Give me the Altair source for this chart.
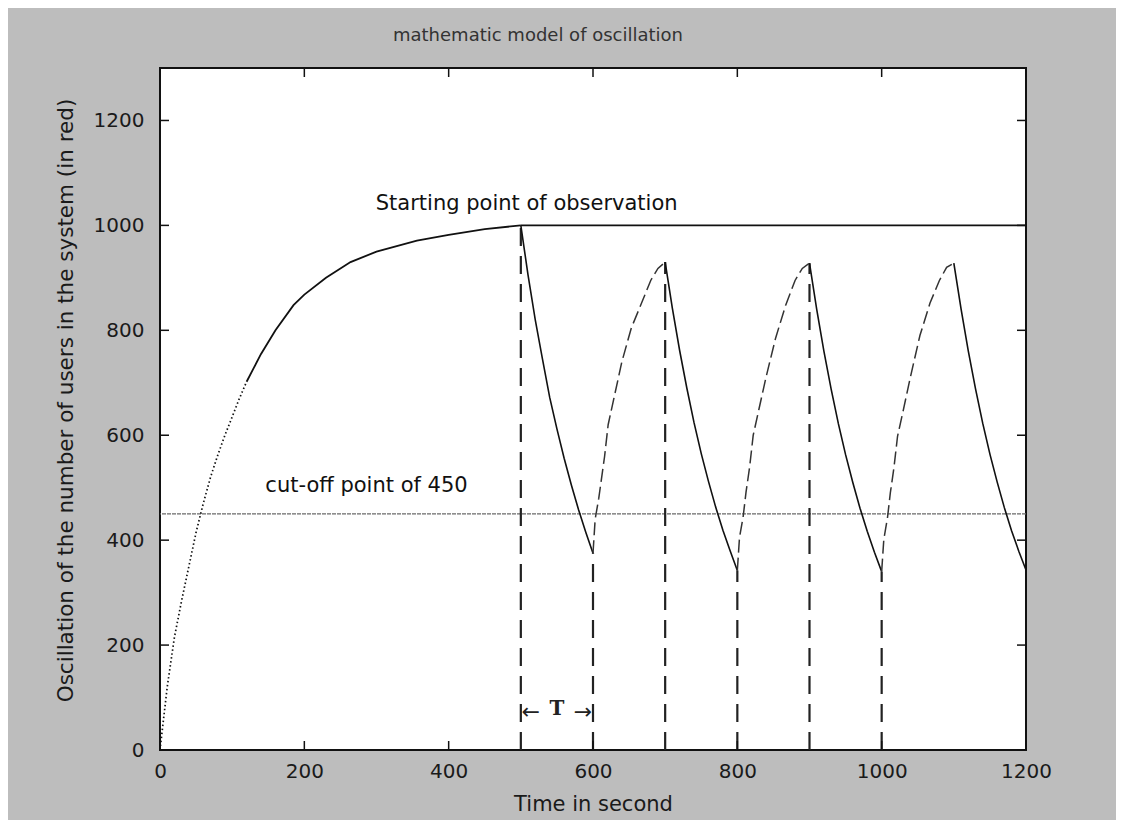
import altair as alt
import pandas as pd

# ---------------- data ----------------
x_ticks = [0, 200, 400, 600, 800, 1000, 1200]
y_ticks = [0, 200, 400, 600, 800, 1000, 1200]

# initial build-up (dotted start, then solid)
init_dot_t = [0, 10, 20, 30, 40, 50, 60, 70, 80, 90, 100, 110, 120]
init_dot_y = [0, 120, 215, 285, 350, 415, 470, 520, 562, 600, 635, 670, 702]
init_t = [120, 140, 160, 185, 200, 230, 264, 300, 356, 400, 450, 500]
init_y = [702, 755, 800, 848, 868, 900, 930, 950, 971, 982, 993, 1000]

# level line after the starting point of observation
obs_t = [500, 1200]
obs_y = [1000, 1000]

# decaying parts (solid)
d1_t = [500, 510, 520, 530, 540, 550, 560, 570, 580, 590, 600]
d1_y = [1000, 905, 820, 745, 672, 612, 556, 505, 458, 415, 375]
d2_t = [700, 710, 720, 730, 740, 750, 760, 770, 780, 790, 800]
d2_y = [930, 842, 762, 690, 624, 565, 512, 463, 419, 380, 342]
d3_t = [900, 910, 920, 930, 940, 950, 960, 970, 980, 990, 1000]
d3_y = [928, 840, 760, 688, 622, 563, 510, 461, 417, 377, 340]
d4_t = [1100, 1110, 1120, 1130, 1140, 1150, 1160, 1170, 1180, 1190, 1200]
d4_y = [928, 841, 761, 689, 623, 564, 511, 462, 418, 379, 343]

# rising parts (dashed)
r1_t = [600, 603, 608, 616, 621, 627, 640, 653, 667, 680, 690, 700]
r1_y = [375, 440, 480, 559, 620, 658, 740, 804, 851, 895, 918, 930]
r2_t = [800, 803, 808, 812, 817, 822, 830, 840, 853, 867, 880, 890, 900]
r2_y = [342, 405, 444, 491, 539, 600, 650, 712, 785, 848, 895, 918, 928]
r3_t = [1000, 1003, 1008, 1012, 1017, 1022, 1030, 1040, 1053, 1067, 1080, 1090, 1100]
r3_y = [340, 402, 442, 490, 538, 598, 648, 712, 790, 852, 895, 920, 928]

# vertical dashed markers
v_t = [500, 600, 700, 800, 900, 1000]
v_y = [1000, 375, 930, 342, 928, 340]

cutoff = 450

FONT = "DejaVu Sans"

# ---------------- tables ----------------
def seg(name, t, y):
    return pd.DataFrame({"t": t, "y": y, "seg": name})

dot_df = seg("dot", init_dot_t, init_dot_y)
solid_df = pd.concat([seg("init", init_t, init_y), seg("obs", obs_t, obs_y)])
decay_df = pd.concat([seg("d1", d1_t, d1_y), seg("d2", d2_t, d2_y),
                      seg("d3", d3_t, d3_y), seg("d4", d4_t, d4_y)])
rise_df = pd.concat([seg("r1", r1_t, r1_y), seg("r2", r2_t, r2_y),
                     seg("r3", r3_t, r3_y)])
vert_df = pd.DataFrame({"t": v_t, "y": v_y, "y0": [0] * len(v_t)})
xt_df = pd.DataFrame({"t": x_ticks})
yt_df = pd.DataFrame({"y": y_ticks})

xs = alt.Scale(domain=[0, 1200], nice=False, zero=False)
ys = alt.Scale(domain=[0, 1300], nice=False, zero=False)
x_axis = alt.Axis(values=x_ticks, format="d", title="Time in second", domain=False,
                  ticks=False, grid=False, labelFlush=False, labelFont=FONT,
                  labelFontSize=20, labelColor="#1a1a1a", labelPadding=11,
                  titleFont=FONT, titleFontSize=21, titleFontWeight="normal",
                  titleColor="#1a1a1a", titlePadding=12)
y_axis = alt.Axis(values=y_ticks, format="d",
                  title="Oscillation of the number of users in the system (in red)",
                  domain=False, ticks=False, grid=False, labelFlush=False,
                  labelFont=FONT, labelFontSize=20, labelColor="#1a1a1a",
                  labelPadding=16, titleFont=FONT, titleFontSize=21.5,
                  titleFontWeight="normal", titleColor="#1a1a1a", titlePadding=16,
                  titleY=332)


def X(f="t"):
    return alt.X(f"{f}:Q", scale=xs, axis=x_axis)


def Y(f="y"):
    return alt.Y(f"{f}:Q", scale=ys, axis=y_axis)


W, H = 866, 682

cut = alt.Chart(pd.DataFrame({"y": [cutoff]})).mark_rule(
    color="#6a6a6a", strokeWidth=1.2, strokeDash=[4, 1]).encode(y=Y())

verts = alt.Chart(vert_df).mark_rule(color="#222", strokeWidth=2.2,
                                     strokeDash=[18, 10]).encode(
    x=X(), y=Y("y0"), y2="y:Q")

dot_line = alt.Chart(dot_df).mark_line(color="#111", strokeWidth=1.7,
                                       strokeDash=[1.5, 2.5]).encode(x=X(), y=Y())
solid_line = alt.Chart(solid_df).mark_line(color="#111", strokeWidth=1.8).encode(
    x=X(), y=Y(), detail="seg:N")
decay_line = alt.Chart(decay_df).mark_line(color="#111", strokeWidth=1.6).encode(
    x=X(), y=Y(), detail="seg:N")
rise_line = alt.Chart(rise_df).mark_line(color="#333", strokeWidth=1.5,
                                         strokeDash=[13, 5]).encode(
    x=X(), y=Y(), detail="seg:N")

# inward ticks on all four sides
tick_len = 9
t_bottom = alt.Chart(xt_df).mark_rule(color="#111", strokeWidth=1.5).encode(
    x=X(), y=alt.value(H), y2=alt.value(H - tick_len))
t_top = alt.Chart(xt_df).mark_rule(color="#111", strokeWidth=1.5).encode(
    x=X(), y=alt.value(0), y2=alt.value(tick_len))
t_left = alt.Chart(yt_df).mark_rule(color="#111", strokeWidth=1.5).encode(
    y=Y(), x=alt.value(0), x2=alt.value(tick_len))
t_right = alt.Chart(yt_df).mark_rule(color="#111", strokeWidth=1.5).encode(
    y=Y(), x=alt.value(W), x2=alt.value(W - tick_len))

txt_start = alt.Chart(pd.DataFrame({"t": [299], "y": [1030],
                                    "label": ["Starting point of observation"]})
                      ).mark_text(font=FONT, fontSize=21, align="left",
                                  baseline="alphabetic", color="#111").encode(
    x=X(), y=Y(), text="label:N")
txt_cut = alt.Chart(pd.DataFrame({"t": [146], "y": [492],
                                  "label": ["cut-off point of 450"]})
                    ).mark_text(font=FONT, fontSize=21, align="left",
                                baseline="alphabetic", color="#111").encode(
    x=X(), y=Y(), text="label:N")
txt_T = alt.Chart(pd.DataFrame({"t": [550], "y": [78], "label": ["T"]})
                  ).mark_text(font="DejaVu Serif", fontSize=20, fontWeight="bold",
                              align="center", baseline="middle", color="#222").encode(
    x=X(), y=Y(), text="label:N")
txt_la = alt.Chart(pd.DataFrame({"t": [501], "y": [72], "label": ["←"]})
                   ).mark_text(font=FONT, fontSize=22, align="left",
                               baseline="middle", color="#222").encode(
    x=X(), y=Y(), text="label:N")
txt_ra = alt.Chart(pd.DataFrame({"t": [599], "y": [72], "label": ["→"]})
                   ).mark_text(font=FONT, fontSize=22, align="right",
                               baseline="middle", color="#222").encode(
    x=X(), y=Y(), text="label:N")

chart = alt.layer(
    cut, verts, dot_line, solid_line, decay_line, rise_line,
    t_bottom, t_top, t_left, t_right,
    txt_start, txt_cut, txt_T, txt_la, txt_ra,
).properties(
    width=W, height=H,
    title=alt.TitleParams("mathematic model of oscillation", font=FONT,
                          fontSize=18, fontWeight="normal", color="#333",
                          anchor="middle", dx=-55, offset=22),
    autosize=alt.AutoSizeParams(type="none"),
    padding={"left": 152, "top": 60, "right": 90, "bottom": 70},
    background="#bdbdbd",
).configure_view(stroke="#111", strokeWidth=2, fill="white")

chart.save("out.html", embed_options={"renderer": "svg", "actions": False})
